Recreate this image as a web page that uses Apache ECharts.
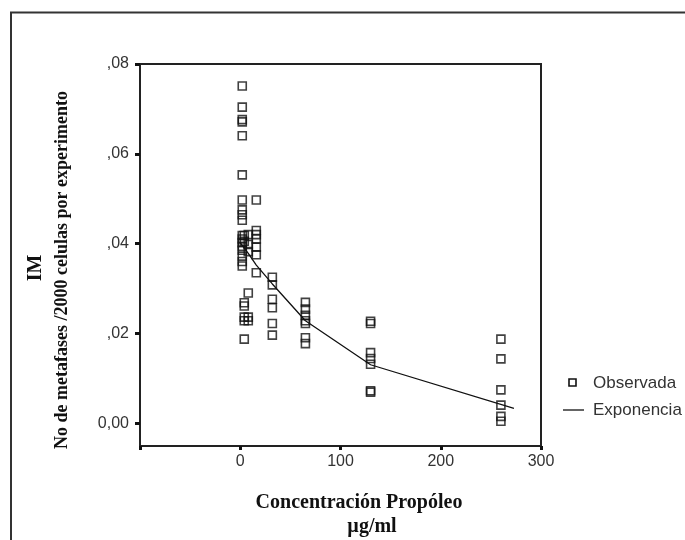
<!DOCTYPE html>
<html>
<head>
<meta charset="utf-8">
<script src="https://cdn.jsdelivr.net/npm/echarts@6/dist/echarts.min.js"></script>
<style>
  html, body { margin: 0; padding: 0; background: #fff; }
  #chart { width: 685px; height: 540px; }
</style>
</head>
<body>
<div id="chart"></div>
<script>
// concentraciones de propóleo (µg/ml) y IM observado en cada una
const conc = [2, 4, 8, 16, 32, 65, 130, 260]
const im2 = [0.0751, 0.0704, 0.0676, 0.0671, 0.0640, 0.0553, 0.0497, 0.0475, 0.0464, 0.0452,
  0.0418, 0.0410, 0.0402, 0.0394, 0.0385, 0.0372, 0.0360, 0.0350]
const im4 = [0.0418, 0.0405, 0.0268, 0.0261, 0.0236, 0.0228, 0.0187]
const im8 = [0.0420, 0.0398, 0.0382, 0.0290, 0.0236, 0.0228]
const im16 = [0.0497, 0.0429, 0.0420, 0.0410, 0.0392, 0.0375, 0.0335]
const im32 = [0.0325, 0.0308, 0.0276, 0.0257, 0.0222, 0.0196]
const im65 = [0.0269, 0.0254, 0.0240, 0.0228, 0.0222, 0.0190, 0.0177]
const im130 = [0.0227, 0.0222, 0.0157, 0.0144, 0.0131, 0.0072, 0.0069]
const im260 = [0.0187, 0.0143, 0.0074, 0.0040, 0.0015, 0.0004]
const imGroups = [im2, im4, im8, im16, im32, im65, im130, im260]

// curva exponencial ajustada
const expX = [0, 4, 8, 16, 32, 65, 130, 273]
const expY = [0.0402, 0.0390, 0.0378, 0.0352, 0.0310, 0.0228, 0.0130, 0.0033]

// ejes
const yTickValues = [0, 0.02, 0.04, 0.06, 0.08]
const yTickLabels = ['0,00', ',02', ',04', ',06', ',08']
const xTickValues = [0, 100, 200, 300]

const observada = []
conc.forEach((c, i) => imGroups[i].forEach(v => observada.push([c, v])))
const exponencial = expX.map((x, i) => [x, expY[i]])

const serif = '"Liberation Serif", "DejaVu Serif", serif'
const sans = '"Liberation Sans", Arial, sans-serif'

const chart = echarts.init(document.getElementById('chart'), null, { renderer: 'canvas' })
chart.setOption({
  backgroundColor: '#fff',
  animation: false,
  grid: {
    left: 140,
    top: 64,
    right: 144,
    bottom: 94,
    show: true,
    borderColor: '#222',
    borderWidth: 2
  },
  xAxis: {
    type: 'value',
    min: -100,
    max: 300,
    interval: 100,
    splitLine: { show: false },
    axisLine: { show: true, onZero: false, lineStyle: { color: '#222', width: 2 } },
    axisTick: { show: true, length: 4, lineStyle: { color: '#111', width: 3 } },
    axisLabel: {
      margin: 8,
      color: '#333',
      fontFamily: sans,
      fontSize: 16,
      customValues: xTickValues
    }
  },
  yAxis: {
    type: 'value',
    min: -0.0051,
    max: 0.08,
    splitLine: { show: false },
    axisLine: { show: true, onZero: false, lineStyle: { color: '#222', width: 2 } },
    axisTick: { show: true, length: 5, lineStyle: { color: '#111', width: 3 }, customValues: yTickValues },
    axisLabel: {
      margin: 11,
      color: '#333',
      fontFamily: sans,
      fontSize: 16,
      customValues: yTickValues,
      formatter: v => yTickLabels[yTickValues.findIndex(t => Math.abs(t - v) < 1e-9)]
    }
  },
  series: [
    {
      name: 'Observada',
      type: 'scatter',
      symbol: 'rect',
      symbolSize: 8,
      itemStyle: { color: 'rgba(0,0,0,0)', borderColor: '#111', borderWidth: 1.6 },
      data: observada,
      z: 3
    },
    {
      name: 'Exponencia',
      type: 'line',
      showSymbol: false,
      lineStyle: { color: '#111', width: 1.3 },
      data: exponencial,
      z: 4
    }
  ],
  graphic: [
    // marco exterior
    {
      type: 'rect',
      shape: { x: 11, y: 12.5, width: 700, height: 600 },
      style: { fill: 'none', stroke: '#333', lineWidth: 2 },
      silent: true
    },
    // títulos de ejes
    {
      type: 'text', x: 36, y: 268, rotation: Math.PI / 2,
      style: { text: 'IM', font: 'bold 20px ' + serif, fill: '#111', align: 'center', verticalAlign: 'middle' }
    },
    {
      type: 'text', x: 62, y: 270, rotation: Math.PI / 2,
      style: {
        text: 'No de metafases /2000 celulas por experimento',
        font: 'bold 18px ' + serif, fill: '#111', align: 'center', verticalAlign: 'middle'
      }
    },
    {
      type: 'text', x: 359, y: 503,
      style: { text: 'Concentración Propóleo', font: 'bold 20px ' + serif, fill: '#111', align: 'center', verticalAlign: 'middle' }
    },
    {
      type: 'text', x: 372, y: 527,
      style: { text: 'µg/ml', font: 'bold 20px ' + serif, fill: '#111', align: 'center', verticalAlign: 'middle' }
    },
    // leyenda
    {
      type: 'rect',
      shape: { x: 569, y: 379, width: 7, height: 7 },
      style: { fill: 'none', stroke: '#111', lineWidth: 1.6 }
    },
    {
      type: 'text', x: 593, y: 383,
      style: { text: 'Observada', font: '17px ' + sans, fill: '#333', align: 'left', verticalAlign: 'middle' }
    },
    {
      type: 'line',
      shape: { x1: 563, y1: 410, x2: 584, y2: 410 },
      style: { stroke: '#111', lineWidth: 1.3 }
    },
    {
      type: 'text', x: 593, y: 410,
      style: { text: 'Exponencia', font: '17px ' + sans, fill: '#333', align: 'left', verticalAlign: 'middle' }
    }
  ]
})
window.addEventListener('resize', function () {
  chart && chart.resize()
})
</script>
</body>
</html>
